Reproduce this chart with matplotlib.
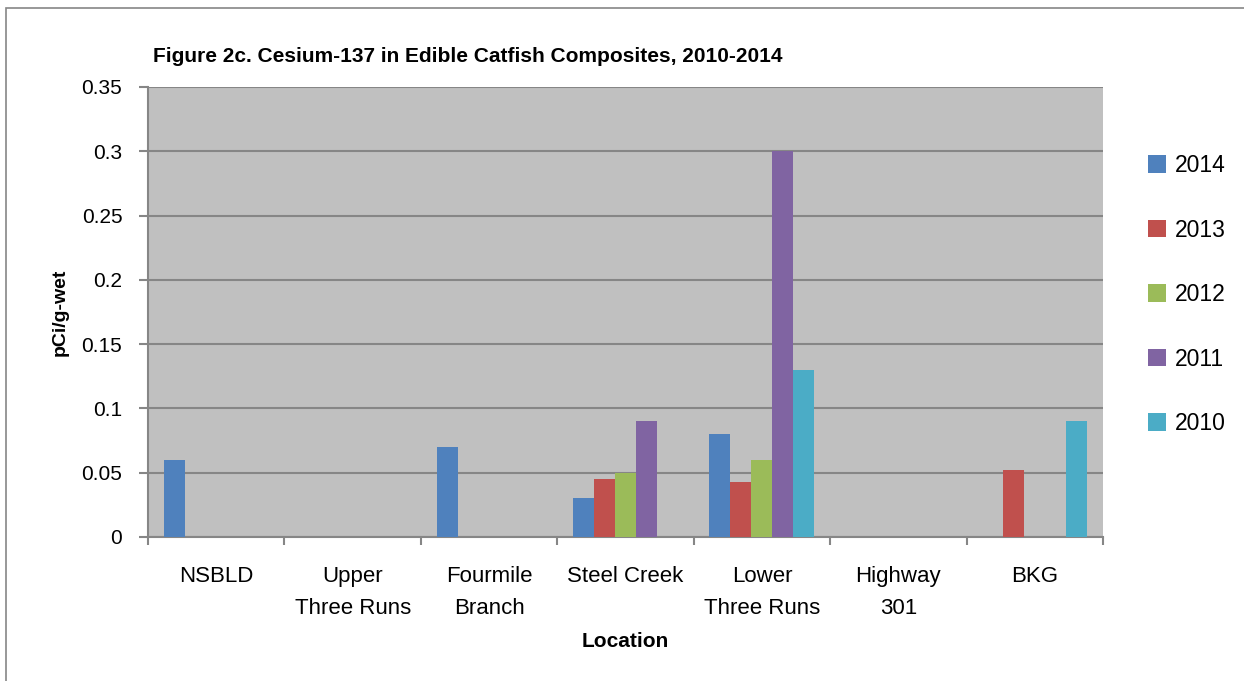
import numpy as np
import matplotlib
matplotlib.use("Agg")
import matplotlib.pyplot as plt
from matplotlib.patches import Rectangle

plt.rcParams['font.family'] = ['Liberation Sans', 'DejaVu Sans']

categories = ["NSBLD", "Upper\nThree Runs", "Fourmile\nBranch", "Steel Creek",
              "Lower\nThree Runs", "Highway\n301", "BKG"]
series_names = ["2014", "2013", "2012", "2011", "2010"]
nan = np.nan
v2014 = [0.06, nan, 0.07, 0.03, 0.08, nan, nan]
v2013 = [nan, nan, nan, 0.045, 0.043, nan, 0.052]
v2012 = [nan, nan, nan, 0.05, 0.06, nan, nan]
v2011 = [nan, nan, nan, 0.09, 0.30, nan, nan]
v2010 = [nan, nan, nan, nan, 0.13, nan, 0.09]
series_values = [v2014, v2013, v2012, v2011, v2010]
colors = ["#4F81BD", "#C0504D", "#9BBB59", "#8064A2", "#4BACC6"]
yticks = [0, 0.05, 0.1, 0.15, 0.2, 0.25, 0.3, 0.35]

fig = plt.figure(figsize=(12.44, 6.81), dpi=100)
# outer chart border
fig.patches.append(Rectangle((6/1244, -0.1), 1.2, 1 - 8/681 + 0.1, transform=fig.transFigure,
                             fill=False, edgecolor="#868686", linewidth=1.2))

ax = fig.add_axes([148/1244, 1 - 537/681, (1103 - 148)/1244, (537 - 87)/681])
ax.set_facecolor("#C0C0C0")

x = np.arange(len(categories))
w = 0.154
n = len(series_names)
for i, (name, vals, c) in enumerate(zip(series_names, series_values, colors)):
    ax.bar(x + (i - (n - 1) / 2) * w, vals, width=w, color=c, label=name, linewidth=0, zorder=3)

ax.set_xlim(-0.5, len(categories) - 0.5)
ax.set_ylim(0, 0.35)
ax.set_yticks(yticks)
ax.set_yticklabels(["%g" % t for t in yticks])
ax.yaxis.grid(True, color="#868686", linewidth=1.5, zorder=1)
ax.set_axisbelow(True)

ax.set_xticks(x)
ax.set_xticklabels(categories, fontsize=16, linespacing=1.7)
ax.set_xticks(np.arange(-0.5, len(categories)), minor=True)
ax.tick_params(axis='x', which='major', length=0, pad=21)
ax.tick_params(axis='x', which='minor', length=6, width=1.5, color="#868686", direction='out')
ax.tick_params(axis='y', length=6.5, width=1.5, color="#868686", direction='out', labelsize=15, pad=12)

for s in ['top', 'right']:
    ax.spines[s].set_visible(False)
for s in ['left', 'bottom']:
    ax.spines[s].set_color("#868686")
    ax.spines[s].set_linewidth(1.5)

ax.set_ylabel("pCi/g-wet", fontsize=14, fontweight='bold', labelpad=9)
ax.set_xlabel("Location", fontsize=15, fontweight='bold', labelpad=9)

fig.text(153/1244, 1 - 57/681, "Figure 2c. Cesium-137 in Edible Catfish Composites, 2010-2014",
         fontsize=15, fontweight='bold', ha='left', va='center')

leg = ax.legend(loc='upper left', bbox_to_anchor=(1103/1244 + 0.0285, 1 - 145/681),
                bbox_transform=fig.transFigure, frameon=False, fontsize=16.5,
                handlelength=0.8, handleheight=0.8, handletextpad=0.4, labelspacing=1.81,
                borderaxespad=0)

fig.savefig("out.png", dpi=100)
